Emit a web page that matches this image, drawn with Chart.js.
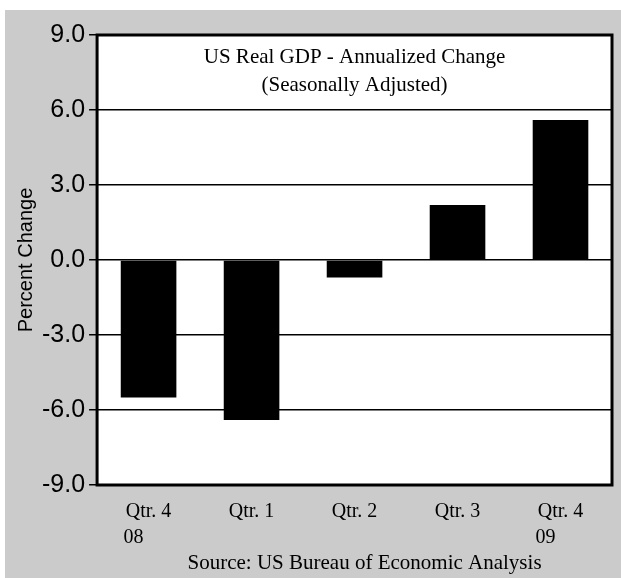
<!DOCTYPE html>
<html>
<head>
<meta charset="utf-8">
<script src="https://cdn.jsdelivr.net/npm/chart.js@4"></script>
<style>
  body { margin: 0; background: #fff; }
  #wrap { position: absolute; left: 5px; top: 10px; width: 616px; height: 568px; background: #cbcbcb; }
</style>
</head>
<body>
<div id="wrap"><canvas id="c" width="616" height="568"></canvas></div>
<script>
const categories = [['Qtr. 4', '08      '], 'Qtr. 1', 'Qtr. 2', 'Qtr. 3', ['Qtr. 4', '09      ']];
const gdpChange = [-5.5, -6.4, -0.7, 2.2, 5.6];
const titleLines = ['US Real GDP - Annualized Change', '(Seasonally Adjusted)'];
const sourceText = 'Source: US Bureau of Economic Analysis';

const SERIF = '"Liberation Serif", "Times New Roman", serif';
const NARROW = '"Liberation Sans Narrow", "Arial Narrow", "Liberation Sans", sans-serif';

const overlay = {
  id: 'overlay',
  beforeDraw(chart) {
    const { ctx, chartArea: a } = chart;
    ctx.save();
    ctx.fillStyle = '#fff';
    ctx.fillRect(a.left, a.top, a.right - a.left, a.bottom - a.top);
    ctx.restore();
  },
  afterDraw(chart) {
    const { ctx, chartArea: a } = chart;
    ctx.save();
    ctx.strokeStyle = '#000';
    ctx.lineWidth = 3;
    ctx.strokeRect(a.left, a.top, a.right - a.left, a.bottom - a.top);
    ctx.fillStyle = '#000';
    ctx.font = '21px ' + SERIF;
    ctx.textAlign = 'center';
    ctx.textBaseline = 'middle';
    const cx = (a.left + a.right) / 2;
    ctx.fillText(titleLines[0], cx, a.top + 22);
    ctx.fillText(titleLines[1], cx, a.top + 50);
    ctx.fillText(sourceText, cx + 10, chart.height - 15);
    ctx.restore();
  }
};

new Chart(document.getElementById('c'), {
  type: 'bar',
  data: {
    labels: categories,
    datasets: [{
      data: gdpChange,
      backgroundColor: '#000',
      borderWidth: 0,
      categoryPercentage: 1,
      barPercentage: 0.54
    }]
  },
  options: {
    responsive: false,
    animation: false,
    layout: { padding: { top: 25, right: 9, bottom: 13, left: 9 } },
    plugins: { legend: { display: false }, tooltip: { enabled: false } },
    scales: {
      x: {
        grid: { display: false, drawTicks: false },
        border: { display: false },
        ticks: { color: '#000', font: { family: SERIF, size: 20, lineHeight: 1.3 }, padding: 14, maxRotation: 0 }
      },
      y: {
        min: -9, max: 9,
        ticks: {
          stepSize: 3, color: '#000', padding: 4,
          font: { family: NARROW, size: 25 },
          callback: v => v.toFixed(1)
        },
        grid: { color: '#000', lineWidth: 1.5, tickLength: 8, tickColor: '#000' },
        border: { display: false },
        title: { display: true, text: 'Percent Change', color: '#000', font: { family: '"Liberation Sans", Arial, sans-serif', size: 20 }, padding: 0 }
      }
    }
  },
  plugins: [overlay]
});
</script>
</body>
</html>
